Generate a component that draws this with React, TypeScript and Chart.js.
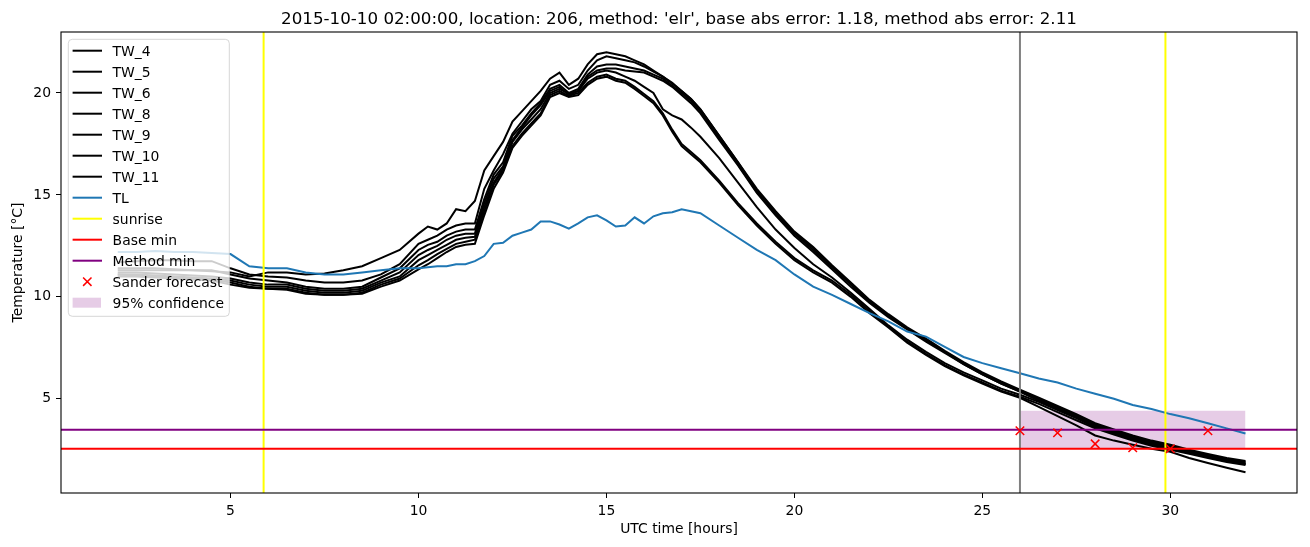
import React, { useEffect, useRef } from "react";
import { Chart, registerables } from "chart.js";

Chart.register(...registerables);

const FONT = "'DejaVu Sans', sans-serif";
const TITLE = "2015-10-10 02:00:00, location: 206, method: 'elr', base abs error: 1.18, method abs error: 2.11";
const X_LABEL = "UTC time [hours]";
const Y_LABEL = "Temperature [°C]";

const X_MIN = 0.49;
const X_MAX = 33.37;
const Y_MIN = 0.38;
const Y_MAX = 22.99;
const X_TICKS = [5, 10, 15, 20, 25, 30];
const Y_TICKS = [5, 10, 15, 20];

const HOURS = [
  2, 2.5, 3, 3.5, 4, 4.5, 5, 5.5, 6, 6.5, 7, 7.5, 8, 8.5, 9, 9.5,
  10, 10.25, 10.5, 10.75, 11, 11.25, 11.5, 11.75, 12, 12.25, 12.5, 12.75, 13, 13.25, 13.5, 13.75,
  14, 14.25, 14.5, 14.75, 15, 15.25, 15.5, 15.75, 16, 16.25, 16.5, 16.75, 17, 17.25, 17.5,
  18, 18.5, 19, 19.5, 20, 20.5, 21, 21.5, 22,
  22.5, 23, 23.5, 24, 24.5, 25, 25.5, 26, 26.5, 27, 27.5, 28, 28.5, 29, 29.5, 30, 30.5, 31, 31.5, 32,
];

const TW_4 = [
  11.3, 11.3, 11.3, 11.3, 11.3, 11.25, 11.2, 11.0, 11.2, 11.2, 11.1, 11.15, 11.3, 11.5, 11.9, 12.3,
  13.1, 13.45, 13.3, 13.6, 14.3, 14.2, 14.7, 16.2, 16.9, 17.6, 18.6, 19.1, 19.6, 20.1, 20.7, 21.0,
  20.4, 20.7, 21.4, 21.9, 22.0, 21.9, 21.8, 21.6, 21.4, 21.1, 20.8, 20.5, 20.1, 19.7, 19.2,
  17.9, 16.6, 15.3, 14.2, 13.2, 12.45, 11.55, 10.7, 9.85,
  9.15, 8.5, 7.95, 7.35, 6.8, 6.3, 5.85, 5.45, 5.05, 4.65, 4.25, 3.8, 3.5, 3.2, 2.95, 2.75, 2.5, 2.3, 2.1, 1.95,
];
const TW_5 = [
  11.7, 11.75, 11.8, 11.8, 11.75, 11.75, 11.4, 11.1, 11.0, 10.95, 10.8, 10.7, 10.7, 10.8, 11.1, 11.6,
  12.6, 12.8, 13.0, 13.3, 13.5, 13.6, 13.6, 15.3, 16.2, 17.0, 18.0, 18.6, 19.2, 19.6, 20.4, 20.6,
  20.2, 20.4, 21.1, 21.6, 21.8, 21.7, 21.6, 21.5, 21.3, 21.05, 20.8, 20.45, 20.1, 19.7, 19.2,
  17.9, 16.6, 15.2, 14.1, 13.15, 12.4, 11.5, 10.65, 9.8,
  9.1, 8.45, 7.9, 7.3, 6.75, 6.25, 5.8, 5.4, 5.0, 4.6, 4.2, 3.75, 3.45, 3.15, 2.9, 2.7, 2.45, 2.25, 2.05, 1.9,
];
const TW_6 = [
  11.4, 11.4, 11.4, 11.35, 11.3, 11.3, 11.1, 10.9, 10.8, 10.7, 10.5, 10.4, 10.4, 10.5, 10.95, 11.4,
  12.3, 12.55, 12.7, 13.0, 13.2, 13.3, 13.3, 14.8, 16.0, 16.6, 17.9, 18.4, 19.0, 19.5, 20.2, 20.4,
  20.0, 20.2, 20.9, 21.3, 21.4, 21.4, 21.3, 21.2, 21.1, 20.9, 20.7, 20.35, 20.0, 19.6, 19.1,
  17.8, 16.5, 15.15, 14.05, 13.1, 12.3, 11.45, 10.6, 9.75,
  9.05, 8.45, 7.85, 7.3, 6.7, 6.2, 5.75, 5.35, 4.95, 4.55, 4.15, 3.7, 3.4, 3.1, 2.85, 2.65, 2.4, 2.2, 2.0, 1.85,
];
const TW_8 = [
  11.2, 11.2, 11.15, 11.1, 11.05, 11.0, 10.9, 10.7, 10.6, 10.6, 10.4, 10.3, 10.3, 10.4, 10.8, 11.2,
  12.05, 12.3, 12.5, 12.8, 13.0, 13.1, 13.1, 14.6, 15.8, 16.4, 17.7, 18.3, 18.9, 19.4, 20.1, 20.3,
  19.9, 20.1, 20.8, 21.1, 21.2, 21.2, 21.1, 21.05, 21.0, 20.8, 20.6, 20.3, 19.9, 19.5, 19.0,
  17.7, 16.45, 15.1, 14.0, 13.0, 12.2, 11.35, 10.5, 9.7,
  9.0, 8.4, 7.8, 7.25, 6.7, 6.2, 5.75, 5.35, 4.9, 4.5, 4.1, 3.65, 3.35, 3.05, 2.8, 2.6, 2.35, 2.15, 1.95, 1.8,
];
const TW_9 = [
  11.1, 11.1, 11.05, 11.0, 10.95, 10.9, 10.8, 10.6, 10.5, 10.5, 10.3, 10.2, 10.2, 10.3, 10.7, 11.0,
  11.8, 12.05, 12.3, 12.55, 12.8, 12.9, 12.95, 14.4, 15.6, 16.3, 17.6, 18.2, 18.7, 19.2, 20.0, 20.2,
  19.95, 20.1, 20.7, 21.0, 21.1, 21.0, 20.8, 20.6, 20.3, 20.0, 19.2, 18.9, 18.7, 18.3, 17.85,
  16.8, 15.6, 14.4, 13.3, 12.4, 11.6, 10.95, 10.2, 9.4,
  8.6, 7.9, 7.3, 6.75, 6.3, 5.9, 5.5, 5.2, 4.85, 4.45, 4.05, 3.6, 3.3, 3.0, 2.75, 2.55, 2.35, 2.15, 1.95, 1.8,
];
const TW_10 = [
  11.1, 11.05, 11.0, 10.95, 10.9, 10.85, 10.7, 10.5, 10.4, 10.4, 10.2, 10.1, 10.1, 10.2, 10.6, 10.9,
  11.55, 11.8, 12.1, 12.35, 12.6, 12.7, 12.8, 14.2, 15.5, 16.2, 17.4, 18.0, 18.5, 19.0, 19.9, 20.1,
  19.85, 20.0, 20.5, 20.8, 20.9, 20.7, 20.6, 20.3, 19.95, 19.6, 19.0, 18.2, 17.5, 17.1, 16.7,
  15.7, 14.6, 13.6, 12.7, 11.9, 11.3, 10.8, 10.1, 9.3,
  8.55, 7.8, 7.2, 6.65, 6.2, 5.8, 5.4, 5.1, 4.75, 4.35, 3.95, 3.55, 3.25, 2.95, 2.7, 2.5, 2.3, 2.1, 1.9, 1.75,
];
const TW_11 = [
  11.0, 11.0, 10.95, 10.9, 10.85, 10.8, 10.6, 10.45, 10.4, 10.35, 10.15, 10.1, 10.1, 10.15, 10.5, 10.8,
  11.35, 11.6, 11.9, 12.2, 12.45, 12.55, 12.6, 14.0, 15.3, 16.1, 17.3, 17.9, 18.4, 18.9, 19.8, 20.0,
  19.8, 19.9, 20.4, 20.7, 20.8, 20.6, 20.5, 20.2, 19.85, 19.5, 18.9, 18.1, 17.4, 17.0, 16.6,
  15.6, 14.5, 13.5, 12.6, 11.8, 11.2, 10.7, 10.0, 9.2,
  8.5, 7.75, 7.15, 6.6, 6.15, 5.75, 5.35, 5.05, 4.6, 4.15, 3.7, 3.2, 2.95, 2.75, 2.55, 2.4, 2.1, 1.85, 1.62, 1.4,
];
const TL = [
  12.2, 12.2, 12.25, 12.2, 12.2, 12.15, 12.1, 11.5, 11.4, 11.4, 11.2, 11.1, 11.1, 11.2, 11.3, 11.4,
  11.4, 11.45, 11.5, 11.5, 11.6, 11.6, 11.75, 12.0, 12.6, 12.65, 13.0, 13.15, 13.3, 13.7, 13.7, 13.55,
  13.35, 13.6, 13.9, 14.0, 13.75, 13.45, 13.5, 13.9, 13.6, 13.95, 14.1, 14.15, 14.3, 14.2, 14.1,
  13.5, 12.9, 12.3, 11.8, 11.1, 10.5, 10.1, 9.65, 9.2,
  8.8, 8.3, 8.05, 7.55, 7.05, 6.75, 6.5, 6.25, 6.0, 5.8, 5.5, 5.25, 5.0, 4.7, 4.5, 4.25, 4.05, 3.8, 3.55, 3.3,
];

const TW_LABELS = ["TW_4", "TW_5", "TW_6", "TW_8", "TW_9", "TW_10", "TW_11"];
const TW_VALUES = [TW_4, TW_5, TW_6, TW_8, TW_9, TW_10, TW_11];

const SUNRISE = [5.88, 29.87];
const FORECAST_START = 26;
const BASE_MIN = 2.55;
const METHOD_MIN = 3.48;
const SANDER_HOURS = [26, 27, 28, 29, 30, 31];
const SANDER_VALUES = [3.43, 3.33, 2.79, 2.6, 2.55, 3.43];
const CONF_HOURS = [26, 32];
const CONF_LOW = 2.55;
const CONF_HIGH = 4.41;

const toPoints = (vals: number[]) => HOURS.map((h, i) => ({ x: h, y: vals[i] }));
const vline = (x: number) => [{ x, y: Y_MIN }, { x, y: Y_MAX }];
const hline = (y: number) => [{ x: X_MIN, y }, { x: X_MAX, y }];

const titlePlugin = {
  id: "axTitle",
  afterDraw(chart: any) {
    const { ctx, chartArea: a } = chart;
    ctx.save();
    ctx.fillStyle = "#000";
    ctx.font = `16.7px ${FONT}`;
    ctx.textAlign = "center";
    ctx.textBaseline = "alphabetic";
    ctx.fillText(TITLE, (a.left + a.right) / 2, a.top - 8.5);
    ctx.restore();
  },
};

const framePlugin = {
  id: "frame",
  afterDatasetsDraw(chart: any) {
    const { ctx, chartArea: a } = chart;
    ctx.save();
    ctx.strokeStyle = "#000";
    ctx.lineWidth = 1.1;
    ctx.strokeRect(a.left, a.top, a.right - a.left, a.bottom - a.top);
    ctx.restore();
  },
};

const legendPlugin = {
  id: "insideLegend",
  afterDatasetsDraw(chart: any) {
    const { ctx, chartArea: a } = chart;
    const items = chart.data.datasets.filter((d: any) => d.legendKind);
    const x0 = a.left + 7.3;
    const y0 = a.top + 7.3;
    const w = 161;
    const h = 277;
    const row = 21.0;
    ctx.save();
    ctx.beginPath();
    ctx.roundRect(x0, y0, w, h, 4);
    ctx.fillStyle = "rgba(255,255,255,0.8)";
    ctx.fill();
    ctx.strokeStyle = "rgba(204,204,204,0.8)";
    ctx.lineWidth = 1;
    ctx.stroke();
    items.forEach((d: any, i: number) => {
      const cy = y0 + 11.4 + i * row;
      const hx0 = x0 + 4.3;
      const hx1 = x0 + 33.7;
      if (d.legendKind === "line") {
        ctx.beginPath();
        ctx.strokeStyle = d.borderColor;
        ctx.lineWidth = 2;
        ctx.moveTo(hx0, cy);
        ctx.lineTo(hx1, cy);
        ctx.stroke();
      } else if (d.legendKind === "x") {
        const cx = (hx0 + hx1) / 2;
        const r = 4.2;
        ctx.beginPath();
        ctx.strokeStyle = d.pointBorderColor;
        ctx.lineWidth = 1.5;
        ctx.moveTo(cx - r, cy - r);
        ctx.lineTo(cx + r, cy + r);
        ctx.moveTo(cx - r, cy + r);
        ctx.lineTo(cx + r, cy - r);
        ctx.stroke();
      } else if (d.legendKind === "patch") {
        ctx.fillStyle = d.backgroundColor;
        ctx.fillRect(hx0, cy - 5, hx1 - hx0 - 1, 10);
      }
      ctx.fillStyle = "#000";
      ctx.font = `13.9px ${FONT}`;
      ctx.textAlign = "left";
      ctx.textBaseline = "alphabetic";
      ctx.fillText(d.label, x0 + 44.3, cy + 5);
    });
    ctx.restore();
  },
};

export default function App() {
  const ref = useRef<HTMLCanvasElement>(null);

  useEffect(() => {
    const canvas = ref.current;
    if (!canvas) return;

    const lineBase = { pointRadius: 0, borderWidth: 2, fill: false, tension: 0 };

    const datasets: any[] = [
      ...TW_LABELS.map((label, i) => ({
        ...lineBase,
        label,
        data: toPoints(TW_VALUES[i]),
        borderColor: "#000000",
        order: 10,
        legendKind: "line",
      })),
      { ...lineBase, label: "TL", data: toPoints(TL), borderColor: "#1f77b4", order: 9, legendKind: "line" },
      { ...lineBase, label: "sunrise", data: vline(SUNRISE[0]), borderColor: "#ffff00", order: 8, legendKind: "line" },
      { ...lineBase, label: "sunrise (2)", data: vline(SUNRISE[1]), borderColor: "#ffff00", order: 8 },
      { ...lineBase, label: "forecast start", data: vline(FORECAST_START), borderColor: "#808080", order: 8 },
      { ...lineBase, label: "Base min", data: hline(BASE_MIN), borderColor: "#ff0000", order: 7, legendKind: "line" },
      { ...lineBase, label: "Method min", data: hline(METHOD_MIN), borderColor: "#800080", order: 6, legendKind: "line" },
      {
        label: "Sander forecast",
        data: SANDER_HOURS.map((h, i) => ({ x: h, y: SANDER_VALUES[i] })),
        showLine: false,
        pointStyle: "crossRot",
        pointRadius: 6,
        pointBorderWidth: 1.5,
        pointBorderColor: "#ff0000",
        pointBackgroundColor: "#ff0000",
        borderColor: "#ff0000",
        order: 0,
        legendKind: "x",
      },
      {
        label: "95% confidence",
        data: CONF_HOURS.map((h) => ({ x: h, y: CONF_HIGH })),
        borderWidth: 0,
        borderColor: "rgba(0,0,0,0)",
        pointRadius: 0,
        backgroundColor: "rgba(128,0,128,0.2)",
        fill: { value: CONF_LOW },
        order: 20,
        legendKind: "patch",
      },
    ];

    const tickFont = { family: FONT, size: 13.9 };

    const chart = new Chart(canvas, {
      type: "line",
      data: { datasets },
      options: {
        animation: false,
        responsive: false,
        devicePixelRatio: 1,
        events: [],
        layout: { padding: { top: 32, right: 13, bottom: 0, left: 0 } },
        plugins: {
          legend: { display: false },
          title: { display: false },
          tooltip: { enabled: false },
        },
        scales: {
          x: {
            type: "linear",
            position: "bottom",
            min: X_MIN,
            max: X_MAX,
            afterBuildTicks: (s: any) => {
              s.ticks = X_TICKS.map((v) => ({ value: v }));
            },
            afterFit: (s: any) => {
              s.height = 54;
            },
            border: { display: false },
            grid: { drawOnChartArea: false, drawTicks: true, tickLength: 5, tickColor: "#000", tickWidth: 1 },
            ticks: { color: "#000", font: tickFont, padding: 5, maxRotation: 0, autoSkip: false },
            title: { display: true, text: X_LABEL, color: "#000", font: tickFont, padding: { top: 0, bottom: 9.7 } },
          },
          y: {
            type: "linear",
            position: "left",
            min: Y_MIN,
            max: Y_MAX,
            afterBuildTicks: (s: any) => {
              s.ticks = Y_TICKS.map((v) => ({ value: v }));
            },
            afterFit: (s: any) => {
              s.width = 61;
            },
            border: { display: false },
            grid: { drawOnChartArea: false, drawTicks: true, tickLength: 5, tickColor: "#000", tickWidth: 1 },
            ticks: { color: "#000", font: tickFont, padding: 5, autoSkip: false },
            title: { display: true, text: Y_LABEL, color: "#000", font: tickFont, padding: { top: 9.7, bottom: 0 } },
          },
        },
      } as any,
      plugins: [framePlugin, legendPlugin, titlePlugin],
    });

    return () => chart.destroy();
  }, []);

  return (
    <div style={{ position: "fixed", left: 0, top: 0, width: 1310, height: 547, background: "#fff" }}>
      <canvas ref={ref} width={1310} height={547} style={{ display: "block", width: 1310, height: 547 }} />
    </div>
  );
}
